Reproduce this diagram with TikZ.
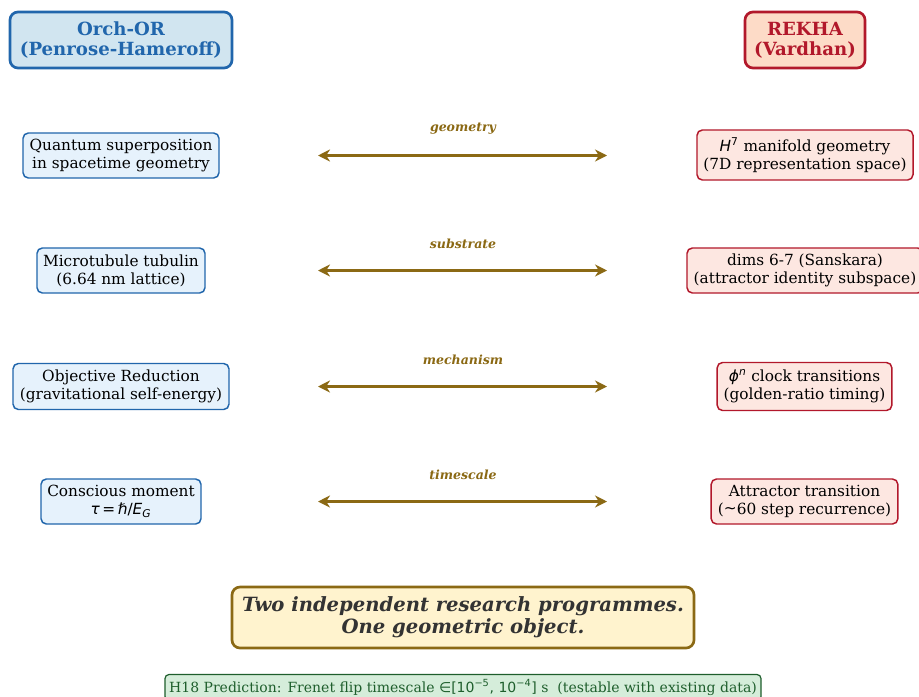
\documentclass[tikz,border=0pt]{standalone}
\usepackage{fontspec}
\setmainfont{DejaVu Serif}
\newfontfamily\dvs{DejaVu Sans}
\usetikzlibrary{arrows.meta}
\definecolor{lblue}{HTML}{2166AC}
\definecolor{lred}{HTML}{B2182B}
\definecolor{gold}{HTML}{8B6914}
\definecolor{hbfill}{HTML}{D1E5F0}
\definecolor{bfill}{HTML}{E6F2FC}
\definecolor{hrfill}{HTML}{FDDBC7}
\definecolor{rfill}{HTML}{FDE7E1}
\definecolor{yfill}{HTML}{FFF3CE}
\definecolor{gfill}{HTML}{D5EDDA}
\definecolor{gdark}{HTML}{1E5E2C}
\definecolor{txtdark}{HTML}{333333}
\begin{document}
\begin{tikzpicture}[x=0.75pt,y=-0.75pt,
  base/.style={align=center,inner sep=0pt,font=\fontsize{11.5}{13.5}\selectfont},
  leftbox/.style={base,draw=lblue,line width=1.1pt,fill=bfill,rounded corners=4pt},
  rightbox/.style={base,draw=lred,line width=1.1pt,fill=rfill,rounded corners=4pt},
  headbox/.style={align=center,inner sep=0pt,line width=2pt,rounded corners=6pt,font=\fontsize{13.6}{15}\selectfont\bfseries},
  link/.style={draw=gold,line width=2.2pt,{Stealth[length=9pt,width=9pt]}-{Stealth[length=9pt,width=9pt]}},
  linklabel/.style={text=gold,font=\fontsize{9.4}{11}\selectfont\bfseries\itshape}
]
\useasboundingbox (0,0) rectangle (919,696);
\fill[white] (0,0) rectangle (919,696);

% headers
\node[headbox,draw=lblue,fill=hbfill,text=lblue,minimum width=166.5pt,minimum height=42pt] (hl) at (121,40) {Orch-OR\\(Penrose-Hameroff)};
\node[headbox,draw=lred,fill=hrfill,text=lred,minimum width=90pt,minimum height=42pt] (hr) at (805,40) {REKHA\\(Vardhan)};

% left column
\node[leftbox,minimum width=147pt,minimum height=33.75pt] (l1) at (121,155.5) {Quantum superposition\\in spacetime geometry};
\node[leftbox,minimum width=126pt,minimum height=33.75pt] (l2) at (121,270.5) {Microtubule tubulin\\(6.64 nm lattice)};
\node[leftbox,minimum width=162pt,minimum height=34.5pt] (l3) at (121,386.5) {Objective Reduction\\(gravitational self-energy)};
\node[leftbox,minimum width=120pt,minimum height=33.75pt] (l4) at (121,501.5) {Conscious moment\\{\dvs\itshape τ}\,{\dvs =}\,{\dvs\itshape ℏ}{\dvs /}{\dvs\itshape E}\textsubscript{\dvs\itshape G}};

% right column
\node[rightbox,minimum width=162pt,minimum height=37.5pt] (r1) at (805,155) {{\dvs\itshape H}\textsuperscript{\dvs 7} manifold geometry\\(7D representation space)};
\node[rightbox,minimum width=177pt,minimum height=33.75pt] (r2) at (805,270.5) {dims 6-7 (Sanskara)\\(attractor identity subspace)};
\node[rightbox,minimum width=131pt,minimum height=36pt] (r3) at (804.5,386.5) {{\dvs\itshape ϕ}\textsuperscript{\dvs\itshape n} clock transitions\\(golden-ratio timing)};
\node[rightbox,minimum width=140pt,minimum height=33.75pt] (r4) at (804.5,501.5) {Attractor transition\\(\raisebox{0.15ex}{\dvs\char"223C}60 step recurrence)};

% connectors
\foreach \i/\y/\lab in {1/155.5/geometry,2/270.5/substrate,3/386.5/mechanism,4/501.5/timescale}{
  \coordinate (a\i) at (318,\y);
  \coordinate (b\i) at (607,\y);
  \draw[link] (a\i) -- (b\i);
  \node[linklabel] (t\i) at (463,\y-27) {\lab};
}

% summary
\node[align=center,inner sep=0pt,draw=gold,line width=2pt,fill=yfill,rounded corners=6pt,
  minimum width=346.5pt,minimum height=45.75pt,text=txtdark,
  font=\fontsize{14.7}{16.5}\selectfont\bfseries\itshape] (sum) at (463,617.5)
  {Two independent research programmes.\\One geometric object.};

% prediction
\node[inner sep=0pt,draw=gdark,line width=0.9pt,fill=gfill,rounded corners=3pt,
  minimum width=447pt,minimum height=19.5pt,text=gdark,
  font=\fontsize{10.5}{12}\selectfont] (pred) at (463,687.5)
  {H18 Prediction: Frenet flip timescale {\dvs ∈[10\textsuperscript{−5}, 10\textsuperscript{−4}]} s\ \ (testable with existing data)};
\end{tikzpicture}
\end{document}
